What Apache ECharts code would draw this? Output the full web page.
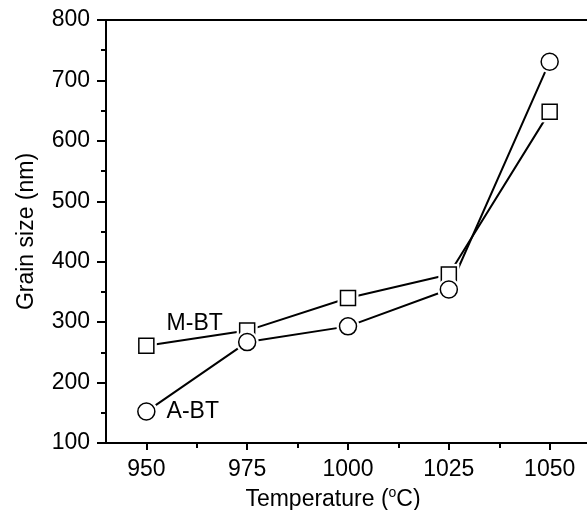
<!DOCTYPE html>
<html>
<head>
<meta charset="utf-8">
<script src="https://cdn.jsdelivr.net/npm/echarts@6/dist/echarts.min.js"></script>
<style>
  html, body { margin: 0; padding: 0; background: #fff; }
  #main { width: 587px; height: 510px; }
</style>
</head>
<body>
<div id="main"></div>
<script>
var temps = [950, 975, 1000, 1025, 1050]
var aBT = [152, 267, 293, 354, 731]
var mBT = [261, 286, 340, 379, 648]
var xTicks = [950, 975, 1000, 1025, 1050]
var xMinor = [962.5, 987.5, 1012.5, 1037.5]

function pairs(vals) {
  return temps.map(function(t, i) { return [t, vals[i]] })
}

var font = 'Liberation Sans, Arial, sans-serif'
var fs = 23
var myChart = echarts.init(document.getElementById('main'))

var option = {
  backgroundColor: '#fff',
  animation: false,
  grid: { left: 106, top: 20, right: -3, bottom: 67, outerBoundsMode: 'none' },
  xAxis: [{
    type: 'value',
    min: 940,
    max: 1060,
    splitLine: { show: false },
    axisLine: { lineStyle: { color: '#000', width: 2 } },
    axisTick: { length: 7, lineStyle: { color: '#000', width: 2 }, customValues: xTicks },
    axisLabel: {
      customValues: xTicks, color: '#000', fontSize: fs, fontFamily: font, margin: 15,
      formatter: function(v) { return String(v) }
    },
    name: 'Temperature ({sup|o}C)',
    nameLocation: 'middle',
    nameGap: 43,
    nameTextStyle: {
      color: '#000', fontSize: fs, fontFamily: font, padding: [0, 30, 0, 0],
      rich: { sup: { fontSize: 14, fontFamily: font, color: '#000', verticalAlign: 'top', padding: [0, 0, 13, 0] } }
    }
  }, {
    // minor ticks on the bottom
    type: 'value',
    position: 'bottom',
    min: 940,
    max: 1060,
    splitLine: { show: false },
    axisLine: { show: false },
    axisTick: { length: 5, lineStyle: { color: '#000', width: 2 }, customValues: xMinor },
    axisLabel: { show: false }
  }, {
    // top frame line
    type: 'value',
    position: 'top',
    min: 940,
    max: 1060,
    splitLine: { show: false },
    axisLine: { lineStyle: { color: '#000', width: 2 } },
    axisTick: { show: false },
    axisLabel: { show: false }
  }],
  yAxis: {
    type: 'value',
    min: 100,
    max: 800,
    interval: 100,
    splitLine: { show: false },
    axisLine: { show: true, lineStyle: { color: '#000', width: 2 } },
    axisTick: { length: 9, lineStyle: { color: '#000', width: 2 } },
    minorTick: { show: true, splitNumber: 2, length: 5, lineStyle: { color: '#000', width: 2 } },
    axisLabel: { color: '#000', fontSize: fs, fontFamily: font, margin: 16 },
    name: 'Grain size (nm)',
    nameLocation: 'middle',
    nameGap: 68,
    nameTextStyle: { color: '#000', fontSize: fs, fontFamily: font }
  },
  series: [
    {
      type: 'line',
      data: pairs(mBT),
      symbol: 'none',
      lineStyle: { color: '#000', width: 2 },
      z: 2
    },
    {
      type: 'line',
      data: pairs(aBT),
      symbol: 'none',
      lineStyle: { color: '#000', width: 2 },
      z: 2
    },
    // white halos give the small gap between line and marker
    {
      type: 'scatter',
      data: pairs(mBT),
      symbol: 'rect',
      symbolSize: 21,
      itemStyle: { color: '#fff', opacity: 1 },
      z: 3
    },
    {
      type: 'scatter',
      data: pairs(mBT),
      symbol: 'rect',
      symbolSize: 15,
      itemStyle: { color: '#fff', borderColor: '#000', borderWidth: 1.5, opacity: 1 },
      label: {
        show: true,
        position: 'right',
        distance: 12,
        offset: [0, -22],
        color: '#000',
        textBorderWidth: 0,
        fontSize: fs,
        fontFamily: font,
        formatter: function(p) { return p.dataIndex === 0 ? 'M-BT' : '' }
      },
      z: 4
    },
    {
      type: 'scatter',
      data: pairs(aBT),
      symbol: 'circle',
      symbolSize: 23,
      itemStyle: { color: '#fff', opacity: 1 },
      z: 5
    },
    {
      type: 'scatter',
      data: pairs(aBT),
      symbol: 'circle',
      symbolSize: 17,
      itemStyle: { color: '#fff', borderColor: '#000', borderWidth: 1.5, opacity: 1 },
      label: {
        show: true,
        position: 'right',
        distance: 11,
        color: '#000',
        textBorderWidth: 0,
        fontSize: fs,
        fontFamily: font,
        formatter: function(p) { return p.dataIndex === 0 ? 'A-BT' : '' }
      },
      z: 6
    }
  ]
}

myChart.setOption(option)
</script>
</body>
</html>
